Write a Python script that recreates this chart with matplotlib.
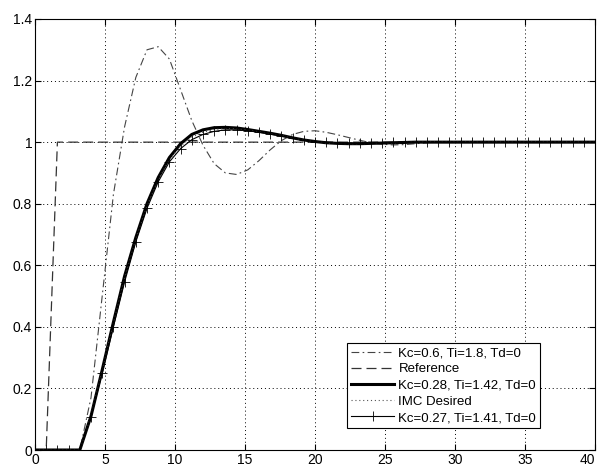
import numpy as np
import matplotlib
matplotlib.use('Agg')
import matplotlib.pyplot as plt

plt.rcParams['font.family'] = ['Liberation Sans', 'DejaVu Sans']

# sample times (step 0.8)
t = [0.0, 0.8, 1.6, 2.4, 3.2, 4.0, 4.8, 5.6, 6.4, 7.2,
     8.0, 8.8, 9.6, 10.4, 11.2, 12.0, 12.8, 13.6, 14.4, 15.2,
     16.0, 16.8, 17.6, 18.4, 19.2, 20.0, 20.8, 21.6, 22.4, 23.2,
     24.0, 24.8, 25.6, 26.4, 27.2, 28.0, 28.8, 29.6, 30.4, 31.2,
     32.0, 32.8, 33.6, 34.4, 35.2, 36.0, 36.8, 37.6, 38.4, 39.2, 40.0]

# Kc=0.6, Ti=1.8, Td=0
y_kc06 = [0, 0, 0, 0, 0, 0.17, 0.50, 0.83, 1.05, 1.21,
          1.30, 1.31, 1.27, 1.17, 1.07, 0.99, 0.93, 0.90, 0.895, 0.91,
          0.94, 0.975, 1.005, 1.025, 1.035, 1.037, 1.032, 1.024, 1.015, 1.006,
          0.998, 0.993, 0.991, 0.992, 0.995, 0.998, 1.001, 1.002, 1.002, 1.001,
          1.0, 1.0, 1.0, 1.0, 1.0, 1.0, 1.0, 1.0, 1.0, 1.0, 1.0]

# reference step
y_ref = [0, 0, 1, 1, 1, 1, 1, 1, 1, 1,
         1, 1, 1, 1, 1, 1, 1, 1, 1, 1,
         1, 1, 1, 1, 1, 1, 1, 1, 1, 1,
         1, 1, 1, 1, 1, 1, 1, 1, 1, 1,
         1, 1, 1, 1, 1, 1, 1, 1, 1, 1, 1]

# Kc=0.28, Ti=1.42, Td=0
y_kc028 = [0, 0, 0, 0, 0, 0.11, 0.26, 0.415, 0.565, 0.69,
           0.80, 0.885, 0.95, 0.995, 1.025, 1.04, 1.047, 1.048, 1.046, 1.041,
           1.035, 1.029, 1.022, 1.014, 1.007, 1.002, 0.998, 0.996, 0.995, 0.995,
           0.996, 0.997, 0.998, 0.999, 1.0, 1.0, 1.0, 1.0, 1.0, 1.0,
           1.0, 1.0, 1.0, 1.0, 1.0, 1.0, 1.0, 1.0, 1.0, 1.0, 1.0]

# IMC desired
y_imc = [0, 0, 0, 0, 0, 0.11, 0.255, 0.41, 0.555, 0.683,
         0.792, 0.878, 0.943, 0.987, 1.016, 1.032, 1.041, 1.044, 1.043, 1.039,
         1.033, 1.027, 1.021, 1.013, 1.007, 1.002, 0.998, 0.996, 0.995, 0.995,
         0.996, 0.997, 0.998, 0.999, 1.0, 1.0, 1.0, 1.0, 1.0, 1.0,
         1.0, 1.0, 1.0, 1.0, 1.0, 1.0, 1.0, 1.0, 1.0, 1.0, 1.0]

# Kc=0.27, Ti=1.41, Td=0
y_kc027 = [0, 0, 0, 0, 0, 0.108, 0.25, 0.40, 0.546, 0.676,
           0.785, 0.871, 0.936, 0.979, 1.008, 1.025, 1.035, 1.04, 1.04, 1.037,
           1.032, 1.026, 1.02, 1.013, 1.007, 1.002, 0.999, 0.997, 0.996, 0.996,
           0.997, 0.998, 0.999, 0.999, 1.0, 1.0, 1.0, 1.0, 1.0, 1.0,
           1.0, 1.0, 1.0, 1.0, 1.0, 1.0, 1.0, 1.0, 1.0, 1.0, 1.0]

labels = ["Kc=0.6, Ti=1.8, Td=0", "Reference", "Kc=0.28, Ti=1.42, Td=0",
          "IMC Desired", "Kc=0.27, Ti=1.41, Td=0"]

xticks = [0, 5, 10, 15, 20, 25, 30, 35, 40]
yticks = [0, 0.2, 0.4, 0.6, 0.8, 1.0, 1.2, 1.4]
yticklabels = ["0", "0.2", "0.4", "0.6", "0.8", "1", "1.2", "1.4"]

fig = plt.figure(figsize=(6.0, 4.66), dpi=100)
ax = fig.add_axes([35/600, 16/466, 560/600, 431/466])

ax.plot(t, y_kc06, color='#444444', lw=0.8, linestyle=(0, (7, 3, 1.5, 3)), label=labels[0])
ax.plot(t, y_ref, color='#333333', lw=0.9, linestyle=(0, (8, 4)), label=labels[1])
ax.plot(t, y_kc028, color='black', lw=2.2, label=labels[2])
ax.plot(t, y_imc, color='#555555', lw=0.8, linestyle=(0, (1, 2.5)), label=labels[3])
ax.plot(t, y_kc027, color='black', lw=0.8, marker='+', markersize=7.5,
        markeredgewidth=0.6, label=labels[4])

ax.set_xlim(0, 40)
ax.set_ylim(0, 1.4)
ax.set_xticks(xticks)
ax.set_yticks(yticks)
ax.set_yticklabels(yticklabels)
ax.tick_params(direction='in', length=4, width=0.8, labelsize=10, pad=2,
               top=True, right=True)
ax.grid(True, color='black', linestyle=(0, (1, 3)), linewidth=0.7)
for s in ax.spines.values():
    s.set_linewidth(0.8)

# keep the last x label inside the picture
ax.get_xticklabels()[-1].set_horizontalalignment('right')

leg = ax.legend(loc='lower right', bbox_to_anchor=(0.902, 0.051), borderaxespad=0,
                fancybox=False, edgecolor='black', framealpha=1, fontsize=9.5,
                handlelength=3.3, handletextpad=0.3, labelspacing=0.3, borderpad=0.3)
leg.get_frame().set_linewidth(0.8)

fig.savefig('out.png', dpi=100)
